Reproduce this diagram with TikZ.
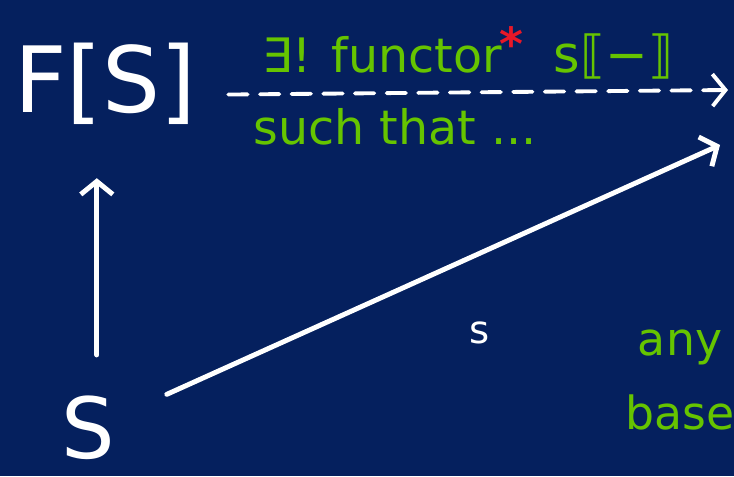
\documentclass[tikz,border=0pt]{standalone}
\usepackage{fontspec}
\setmainfont{DejaVu Sans}
\usepackage{xcolor}
\usetikzlibrary{arrows.meta,positioning}
\definecolor{boardblue}{RGB}{5,32,94}
\definecolor{chalkgreen}{RGB}{102,196,0}
\definecolor{starred}{RGB}{232,24,40}

\begin{document}
\begin{tikzpicture}[x=0.01cm, y=-0.01cm,
  every node/.style={inner sep=0pt, white},
  ink/.style={white, line width=1.4pt, line cap=round, -{Straight Barb[length=1.3mm,width=3.2mm]}},
  note/.style={chalkgreen, font=\fontsize{13.5}{15}\selectfont, anchor=base west}]
% blackboard
\fill[boardblue] (0,0) rectangle (734,476);
\useasboundingbox (0,0) rectangle (734,476);
% objects
\node[font=\fontsize{26}{28}\selectfont] (fs) at (105,84) {F[S]};
\node[font=\fontsize{24}{26}\selectfont] (s) at (88,428) {S};
% free ends of the arrows
\coordinate (dashend) at (728,90);
\coordinate (diagend) at (720,145);
% arrows
\draw[ink, shorten <=11.5pt, shorten >=15pt] ([xshift=2.5pt]s.north) -- ([xshift=2.5pt]s.north |- fs.south);
\draw[ink, shorten <=16pt] ([yshift=3pt]s.east) -- (diagend);
\draw[ink, line width=1.1pt, dash pattern=on 5.5pt off 3.5pt] ([shift={(9pt,-3pt)}]fs.east) -- (dashend);
\node[font=\fontsize{11}{12}\selectfont] (lbl) at (480,333) {s};
% green notes
\node[note] (exists) at (262,73) {∃! functor};
\node[starred, font=\fontsize{13}{13}\selectfont\bfseries, anchor=north west] (star) at ([xshift=-1pt, yshift=3pt]exists.north east) {*};
\node[note, font=\fontsize{14.5}{15}\selectfont] (sem) at (553,73) {s⟦−⟧};
\node[note] (such) at (253,145) {such that ...};
\node[chalkgreen, font=\fontsize{13}{21}\selectfont, align=center] (base) at (680,380) {any\\base};
\end{tikzpicture}
\end{document}
